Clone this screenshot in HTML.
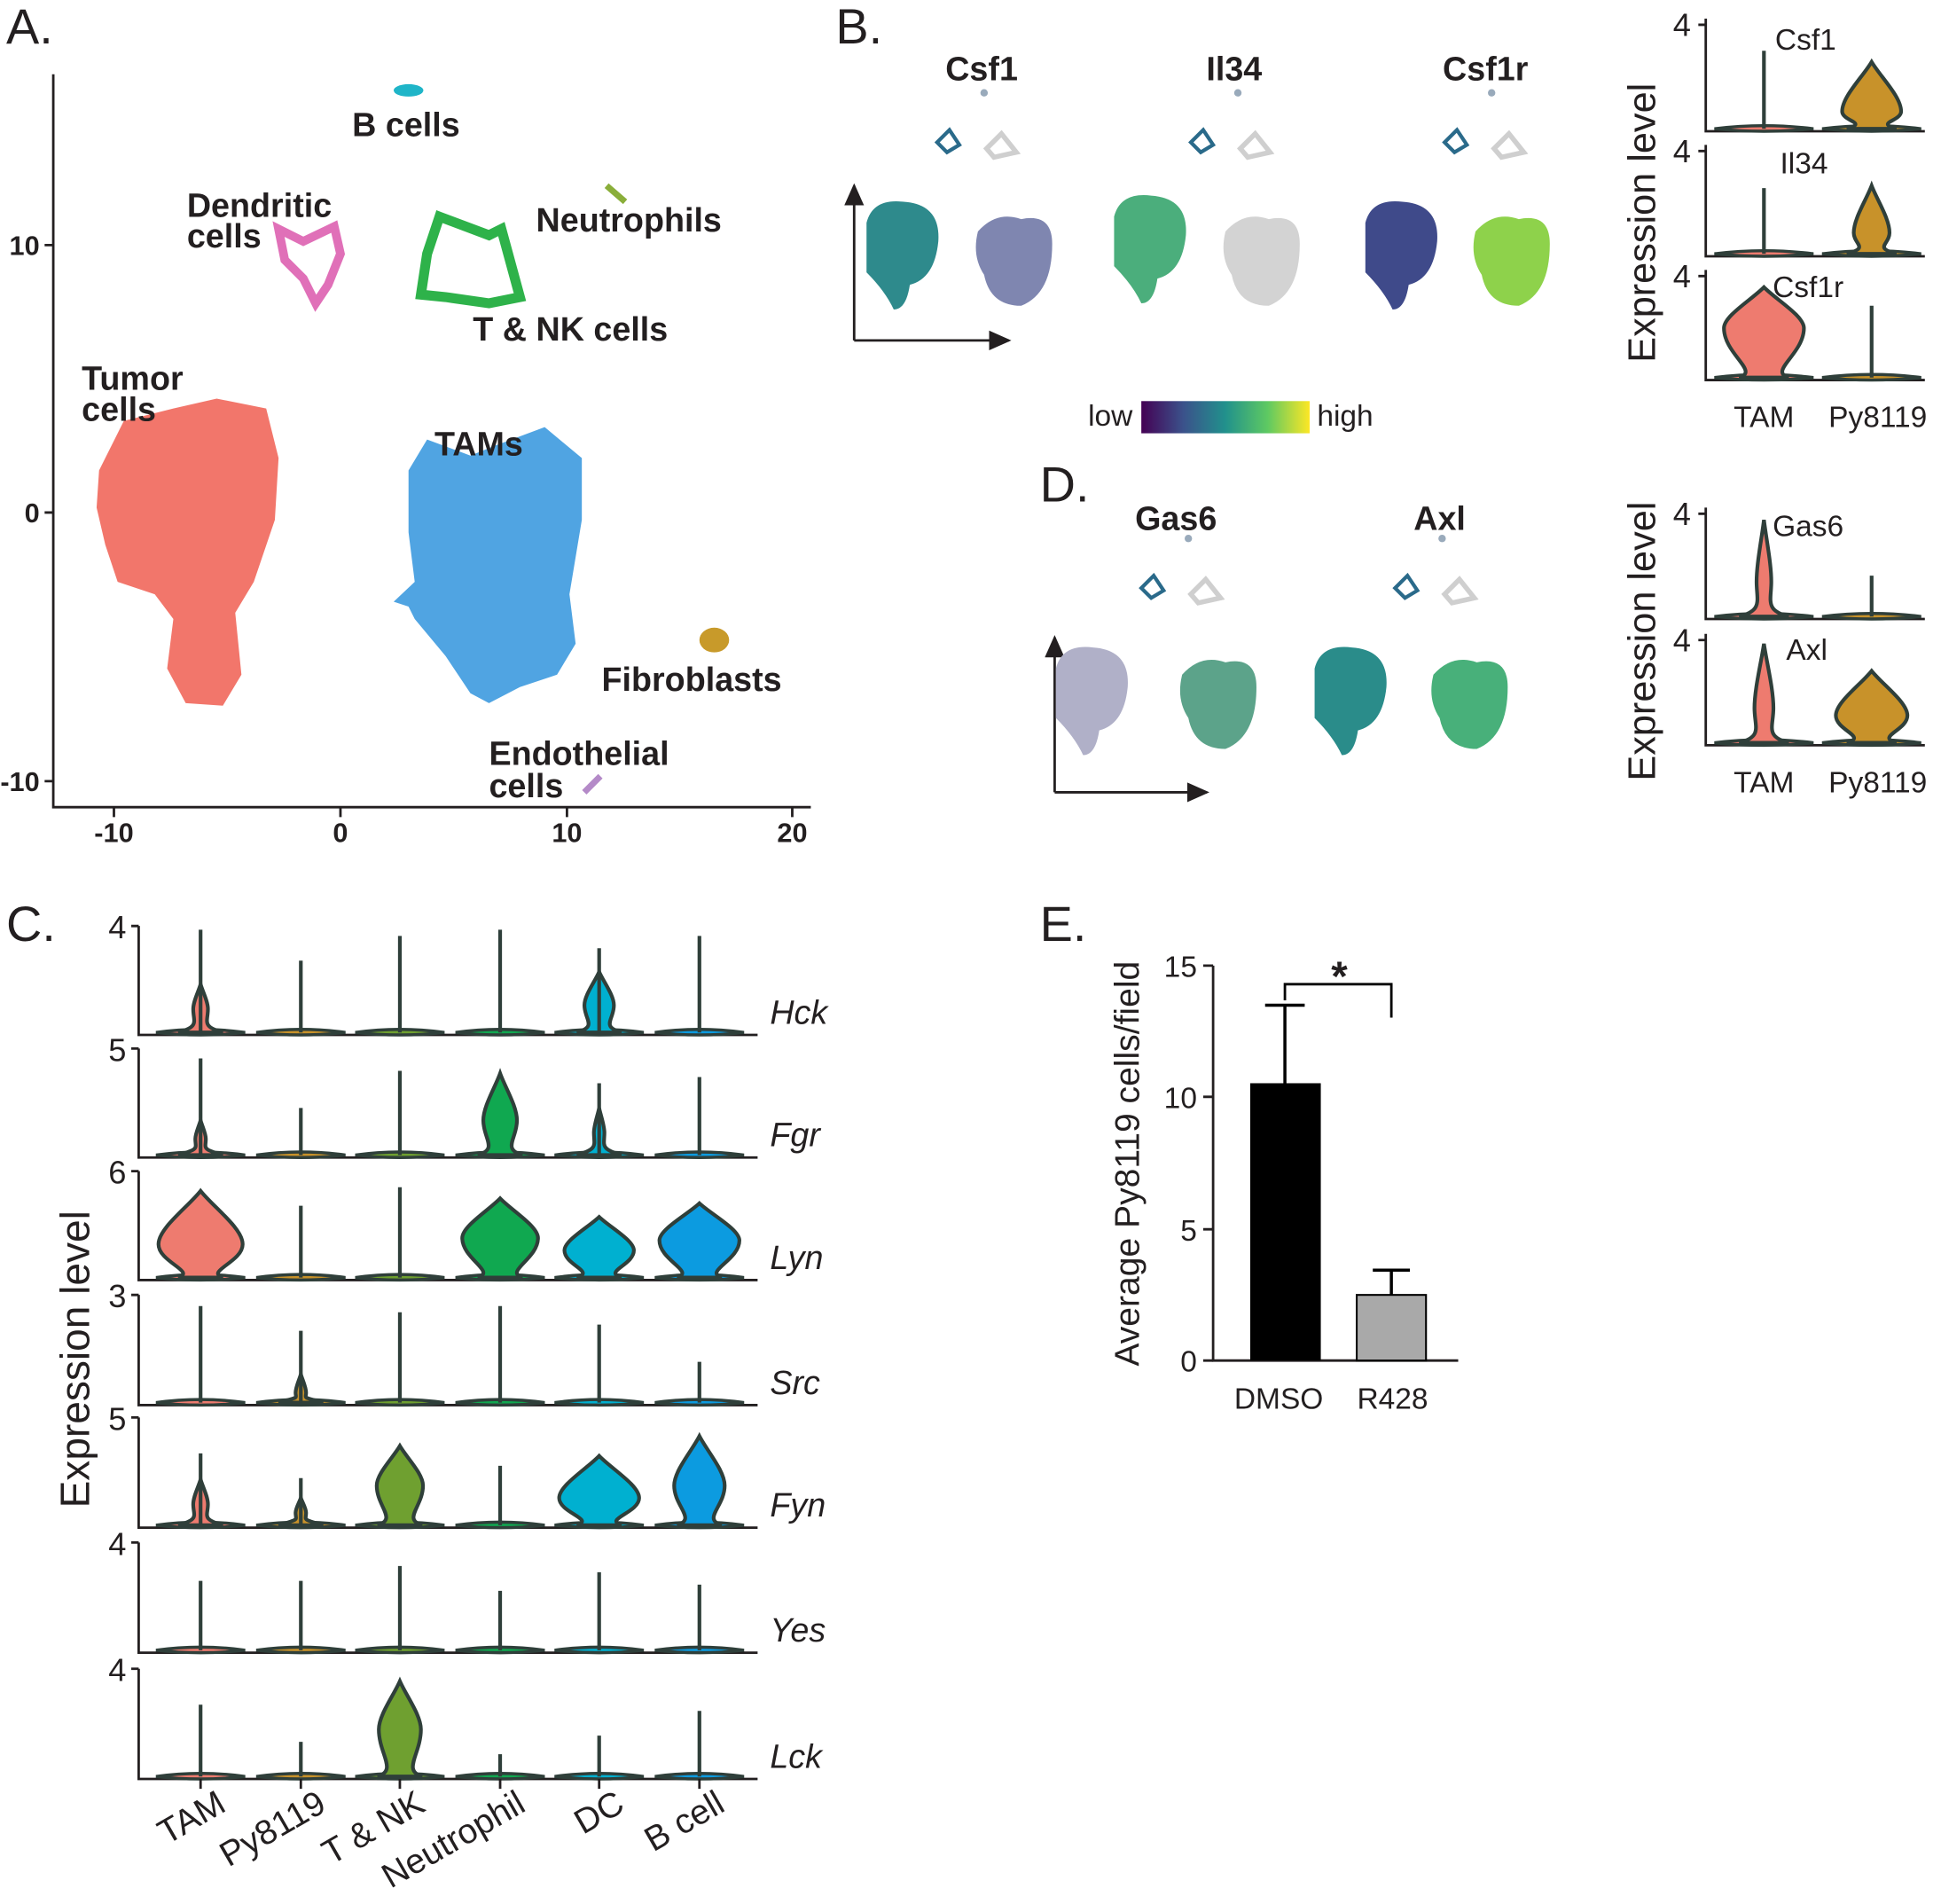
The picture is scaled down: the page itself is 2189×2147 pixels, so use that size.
<!DOCTYPE html>
<html><head><meta charset="utf-8"><style>
html,body{margin:0;padding:0;background:#fff}
svg{display:block}
text{font-family:"Liberation Sans",Arial,sans-serif;fill:#231F20}
.b{font-weight:bold;font-size:27px}
.L{font-size:40px}
.t{font-size:24px}
.it{font-style:italic;font-size:27px}
</style></head><body>
<svg id="s" xmlns="http://www.w3.org/2000/svg" width="2189" height="2147" viewBox="0 0 1568 1538">
<defs>
<linearGradient id="vir" x1="0" x2="1"><stop offset="0" stop-color="#440154"/><stop offset="0.25" stop-color="#3B528B"/><stop offset="0.5" stop-color="#21918C"/><stop offset="0.75" stop-color="#5EC962"/><stop offset="1" stop-color="#FDE725"/></linearGradient>
<marker id="ar" markerWidth="10" markerHeight="10" refX="8" refY="4" orient="auto"><path d="M0,0 L9,4 L0,8 z" fill="#231F20"/></marker>
</defs>
<rect width="1568" height="1538" fill="#fff"/>
<text class="L" x="5" y="35">A.</text>
<g stroke="#231F20" stroke-width="2" fill="none">
<path d="M43,60 V652 H655"/>
<path d="M92,652v8M275,652v8M458,652v8M640,652v8M43,198h-7M43,414h-7M43,631h-7"/>
</g>
<g text-anchor="middle"><text x="92" y="680" class="b" style="font-size:22px">-10</text><text x="275" y="680" class="b" style="font-size:22px">0</text><text x="458" y="680" class="b" style="font-size:22px">10</text><text x="640" y="680" class="b" style="font-size:22px">20</text></g>
<text x="32" y="206" text-anchor="end" class="b" style="font-size:22px">10</text>
<text x="32" y="422" text-anchor="end" class="b" style="font-size:22px">0</text>
<text x="32" y="639" text-anchor="end" class="b" style="font-size:22px">-10</text>
<polygon fill="#F2766B" points="80,380 100,340 140,330 175,322 215,330 225,370 222,420 205,470 190,495 195,545 180,570 150,568 135,540 140,500 125,480 95,470 85,440 78,410"/>
<polygon fill="#50A4E2" points="330,380 345,355 380,368 400,360 440,345 470,370 470,420 460,480 465,520 450,545 420,555 395,568 380,560 360,530 335,500 330,490 318,486 335,470 330,430"/>
<ellipse cx="330" cy="73" rx="12" ry="5" fill="#1FB5C8"/>
<path d="M225,185 L245,195 L270,183 L275,205 L265,230 L255,245 L245,225 L230,210 Z" fill="none" stroke="#E070B8" stroke-width="7"/>
<path d="M355,175 L395,190 L405,185 L420,240 L395,245 L360,240 L340,238 L345,205 Z" fill="none" stroke="#2EB24A" stroke-width="8"/>
<path d="M490,150 L505,163" stroke="#8AAE3A" stroke-width="5"/>
<ellipse cx="577" cy="517" rx="12" ry="10" fill="#C89A2A"/>
<path d="M472,640 L485,627" stroke="#B48AC8" stroke-width="5"/>
<text class="b" x="328" y="110" text-anchor="middle">B cells</text>
<text class="b" x="151" y="175">Dendritic</text><text class="b" x="151" y="200">cells</text>
<text class="b" x="433" y="187">Neutrophils</text>
<text class="b" x="382" y="275">T &amp; NK cells</text>
<text class="b" x="66" y="315">Tumor</text><text class="b" x="66" y="340">cells</text>
<text class="b" x="351" y="368">TAMs</text>
<text class="b" x="486" y="558">Fibroblasts</text>
<text class="b" x="395" y="618">Endothelial</text><text class="b" x="395" y="644">cells</text>
<text class="L" x="675" y="35">B.</text>
<text class="b" x="793" y="65" text-anchor="middle">Csf1</text>
<text class="b" x="997" y="65" text-anchor="middle">Il34</text>
<text class="b" x="1200" y="65" text-anchor="middle">Csf1r</text>
<path d="M690,275 V150" stroke="#231F20" stroke-width="2" marker-end="url(#ar)"/>
<path d="M690,275 H815" stroke="#231F20" stroke-width="2" marker-end="url(#ar)"/>
<path d="M852,640 V515" stroke="#231F20" stroke-width="2" marker-end="url(#ar)"/>
<path d="M852,640 H975" stroke="#231F20" stroke-width="2" marker-end="url(#ar)"/>
<g id="umaps"></g>
<rect x="922" y="324" width="136" height="26" fill="url(#vir)"/>
<text class="t" x="915" y="344" text-anchor="end">low</text>
<text class="t" x="1064" y="344">high</text>
<g id="vio"></g>
<text class="t" x="1434" y="40" font-size="26">Csf1</text>
<text class="t" x="1438" y="140" font-size="26">Il34</text>
<text class="t" x="1432" y="240" font-size="26">Csf1r</text>
<text class="t" x="1425" y="345" text-anchor="middle" font-size="27">TAM</text>
<text class="t" x="1517" y="345" text-anchor="middle" font-size="27">Py8119</text>
<text x="0" y="0" font-size="31" text-anchor="middle" transform="translate(1337,180) rotate(-90)">Expression level</text>
<text class="L" x="840" y="405">D.</text>
<text class="b" x="950" y="428" text-anchor="middle">Gas6</text>
<text class="b" x="1163" y="428" text-anchor="middle">Axl</text>
<text class="t" x="1432" y="433" font-size="26">Gas6</text>
<text class="t" x="1443" y="533" font-size="26">Axl</text>
<text class="t" x="1425" y="640" text-anchor="middle" font-size="27">TAM</text>
<text class="t" x="1517" y="640" text-anchor="middle" font-size="27">Py8119</text>
<text x="0" y="0" font-size="31" text-anchor="middle" transform="translate(1337,518) rotate(-90)">Expression level</text>
<text class="L" x="5" y="760">C.</text>
<text x="0" y="0" font-size="33" text-anchor="middle" transform="translate(72,1098) rotate(-90)">Expression level</text>
<text class="L" x="840" y="760">E.</text>
<g stroke="#231F20" stroke-width="2" fill="none">
<path d="M980,780 V1099 H1178"/>
<path d="M980,780h-8M980,886h-8M980,993h-8M980,1099h-8"/>
</g>
<text class="t" x="967" y="789" text-anchor="end" font-size="26">15</text>
<text class="t" x="967" y="895" text-anchor="end" font-size="26">10</text>
<text class="t" x="967" y="1002" text-anchor="end" font-size="26">5</text>
<text class="t" x="967" y="1108" text-anchor="end" font-size="26">0</text>
<rect x="1010" y="875" width="57" height="224" fill="#000"/>
<path d="M1038,875 V812 M1022,812 H1054" stroke="#000" stroke-width="2.5" fill="none"/>
<rect x="1096" y="1046" width="56" height="53" fill="#A9A9A9" stroke="#000" stroke-width="1.5"/>
<path d="M1124,1046 V1026 M1109,1026 H1139" stroke="#000" stroke-width="2.5" fill="none"/>
<path d="M1038,808 V795 H1124 V822" stroke="#000" stroke-width="2" fill="none"/>
<text x="1082" y="800" font-size="34" font-weight="bold" text-anchor="middle">*</text>
<text class="t" x="1033" y="1138" text-anchor="middle" font-size="28">DMSO</text>
<text class="t" x="1125" y="1138" text-anchor="middle" font-size="28">R428</text>
<text x="0" y="0" font-size="28" text-anchor="middle" transform="translate(920,940) rotate(-90)">Average Py8119 cells/field</text>
</svg>
<script>
var NS="http://www.w3.org/2000/svg",S=document.getElementById('s');
function el(t,a,p){var e=document.createElementNS(NS,t);for(var k in a)e.setAttribute(k,a[k]);(p||S).appendChild(e);return e;}
var OUT="#2F3F3A";
function vio(cx,b,h,blob,col,bw){
  bw=bw||36;
  el('path',{d:'M'+(cx-bw)+','+(b-2)+' Q'+cx+','+(b-7)+' '+(cx+bw)+','+(b-2)+' Q'+cx+','+(b+2)+' '+(cx-bw)+','+(b-2)+'Z',fill:col,stroke:OUT,'stroke-width':2.5});
  if(blob){
    var t=blob[0],w=blob[1]*0.85,m=blob[2];
    var d='M'+cx+','+t+' C'+(cx+w*0.3)+','+(t+(m-t)*0.3)+' '+(cx+w)+','+(m-(m-t)*0.3)+' '+(cx+w)+','+m+
      ' C'+(cx+w)+','+(m+(b-m)*0.5)+' '+(cx+w*0.1)+','+(b-7)+' '+(cx+bw*0.5)+','+(b-2)+
      ' L'+(cx-bw*0.5)+','+(b-2)+' C'+(cx-w*0.1)+','+(b-7)+' '+(cx-w)+','+(m+(b-m)*0.5)+' '+(cx-w)+','+m+
      ' C'+(cx-w)+','+(m-(m-t)*0.3)+' '+(cx-w*0.3)+','+(t+(m-t)*0.3)+' '+cx+','+t+'Z';
    el('path',{d:d,fill:col,stroke:OUT,'stroke-width':3});
  }
  if(h) el('line',{x1:cx,y1:b-2,x2:cx,y2:b-h,stroke:OUT,'stroke-width':3});
}
var COL=['#EE7B6F','#C8922A','#6FA030','#10A850','#00B0D0','#0C9BE0'];
var CX=[162,243,323,404,484,565];
var rows=[
 {b:836,top:748,lab:'4',n:'Hck',v:[[85,[795,7,815]],[60],[80],[85],[70,[785,14,812]],[80]]},
 {b:935,top:847,lab:'5',n:'Fgr',v:[[80,[905,5,920]],[40],[70],[0,[867,16,905]],[60,[895,5,915]],[65]]},
 {b:1034,top:946,lab:'6',n:'Lyn',v:[[0,[962,40,1005]],[60],[75],[0,[968,36,1000]],[0,[983,33,1010]],[0,[972,38,1002]]]},
 {b:1135,top:1046,lab:'3',n:'Src',v:[[80],[60,[1110,5,1125]],[75],[80],[65],[35]]},
 {b:1234,top:1145,lab:'5',n:'Fyn',v:[[60,[1195,7,1215]],[40,[1210,5,1222]],[0,[1168,22,1200]],[50],[0,[1176,38,1210]],[0,[1160,24,1200]]]},
 {b:1335,top:1246,lab:'4',n:'Yes',v:[[58],[58],[70],[50],[65],[55]]},
 {b:1437,top:1348,lab:'4',n:'Lck',v:[[60],[30],[0,[1358,20,1397]],[20],[35],[55]]}
];
rows.forEach(function(r){
  el('path',{d:'M112,'+r.top+' V'+r.b+' H612 M112,'+r.top+' h-6',stroke:'#231F20','stroke-width':2,fill:'none'});
  var t=el('text',{x:102,y:r.top+10,'text-anchor':'end','font-size':26});t.textContent=r.lab;
  r.v.forEach(function(v,i){vio(CX[i],r.b,v[0],v[1],COL[i]);});
  var n=el('text',{x:622,y:r.b-9,class:'it'});n.textContent=r.n;
});
el('path',{d:'M162,1437v8M243,1437v8M323,1437v8M404,1437v8M484,1437v8M565,1437v8',stroke:'#231F20','stroke-width':2});
['TAM','Py8119','T & NK','Neutrophil','DC','B cell'].forEach(function(s,i){
  var t=el('text',{x:0,y:0,'font-size':28,'text-anchor':'end',transform:'translate('+(CX[i]+22)+',1462) rotate(-30)'});t.textContent=s;
});
function vrows(list){list.forEach(function(r){
  el('path',{d:'M1378,'+r.top+' V'+r.b+' H1555 M1378,'+(r.top+5)+' h-6',stroke:'#231F20','stroke-width':2,fill:'none'});
  var t=el('text',{x:1366,y:r.top+14,'text-anchor':'end','font-size':26});t.textContent='4';
  vio(1425,r.b,r.a[0],r.a[1],COL[0],40);vio(1512,r.b,r.p[0],r.p[1],COL[1],40);
});}
vrows([
 {top:15,b:106,a:[65],p:[0,[50,28,90]]},
 {top:117,b:207,a:[55],p:[0,[150,17,188]]},
 {top:218,b:307,a:[0,[232,38,265]],p:[60]},
 {top:410,b:500,a:[0,[420,7,470]],p:[35]},
 {top:512,b:602,a:[0,[520,9,572]],p:[0,[542,34,578]]}
]);
var U=document.getElementById('umaps');
function blobL(x,y,col){el('path',{d:'M'+(x-30)+','+(y-25)+' Q'+(x-25)+','+(y-45)+' '+x+','+(y-42)+' Q'+(x+30)+','+(y-40)+' '+(x+28)+','+(y-10)+' Q'+(x+25)+','+(y+20)+' '+(x+5)+','+(y+25)+' Q'+(x+2)+','+(y+45)+' '+(x-8)+','+(y+45)+' Q'+(x-15)+','+(y+30)+' '+(x-30)+','+(y+15)+'Z',fill:col},U);}
function blobR(x,y,col){el('path',{d:'M'+(x-30)+','+(y-25)+' Q'+(x-15)+','+(y-42)+' '+(x+5)+','+(y-35)+' Q'+(x+30)+','+(y-40)+' '+(x+30)+','+(y-15)+' Q'+(x+30)+','+(y+25)+' '+(x+5)+','+(y+35)+' Q'+(x-20)+','+(y+35)+' '+(x-25)+','+(y+10)+' Q'+(x-35)+','+(y-5)+' '+(x-30)+','+(y-25)+'Z',fill:col},U);}
function small(x,y,c1,c2){el('circle',{cx:x,cy:y-50,r:3,fill:c1},U);el('path',{d:'M'+(x-38)+','+(y-10)+' l10,-10 l8,12 l-10,6z',fill:'none',stroke:c2,'stroke-width':3},U);el('path',{d:'M'+(x+2)+','+(y-5)+' l12,-12 l12,15 l-18,4z',fill:'none',stroke:'#cfcfcf','stroke-width':4},U);}
[[730,205,'#2E8A8C',820,212,'#7F86B0',795,125],[930,200,'#4BAE7C',1020,212,'#D3D3D3',1000,125],[1133,205,'#3F4A8A',1222,212,'#8ED24B',1205,125],
 [883,565,'#B0B0C8',985,570,'#5CA38A',960,485],[1092,565,'#2A8C8A',1188,570,'#48B07A',1165,485]].forEach(function(p){
  blobL(p[0],p[1],p[2]);blobR(p[3],p[4],p[5]);small(p[6],p[7],'#9ab','#2A6A8A');
});
</script>
</body></html>
